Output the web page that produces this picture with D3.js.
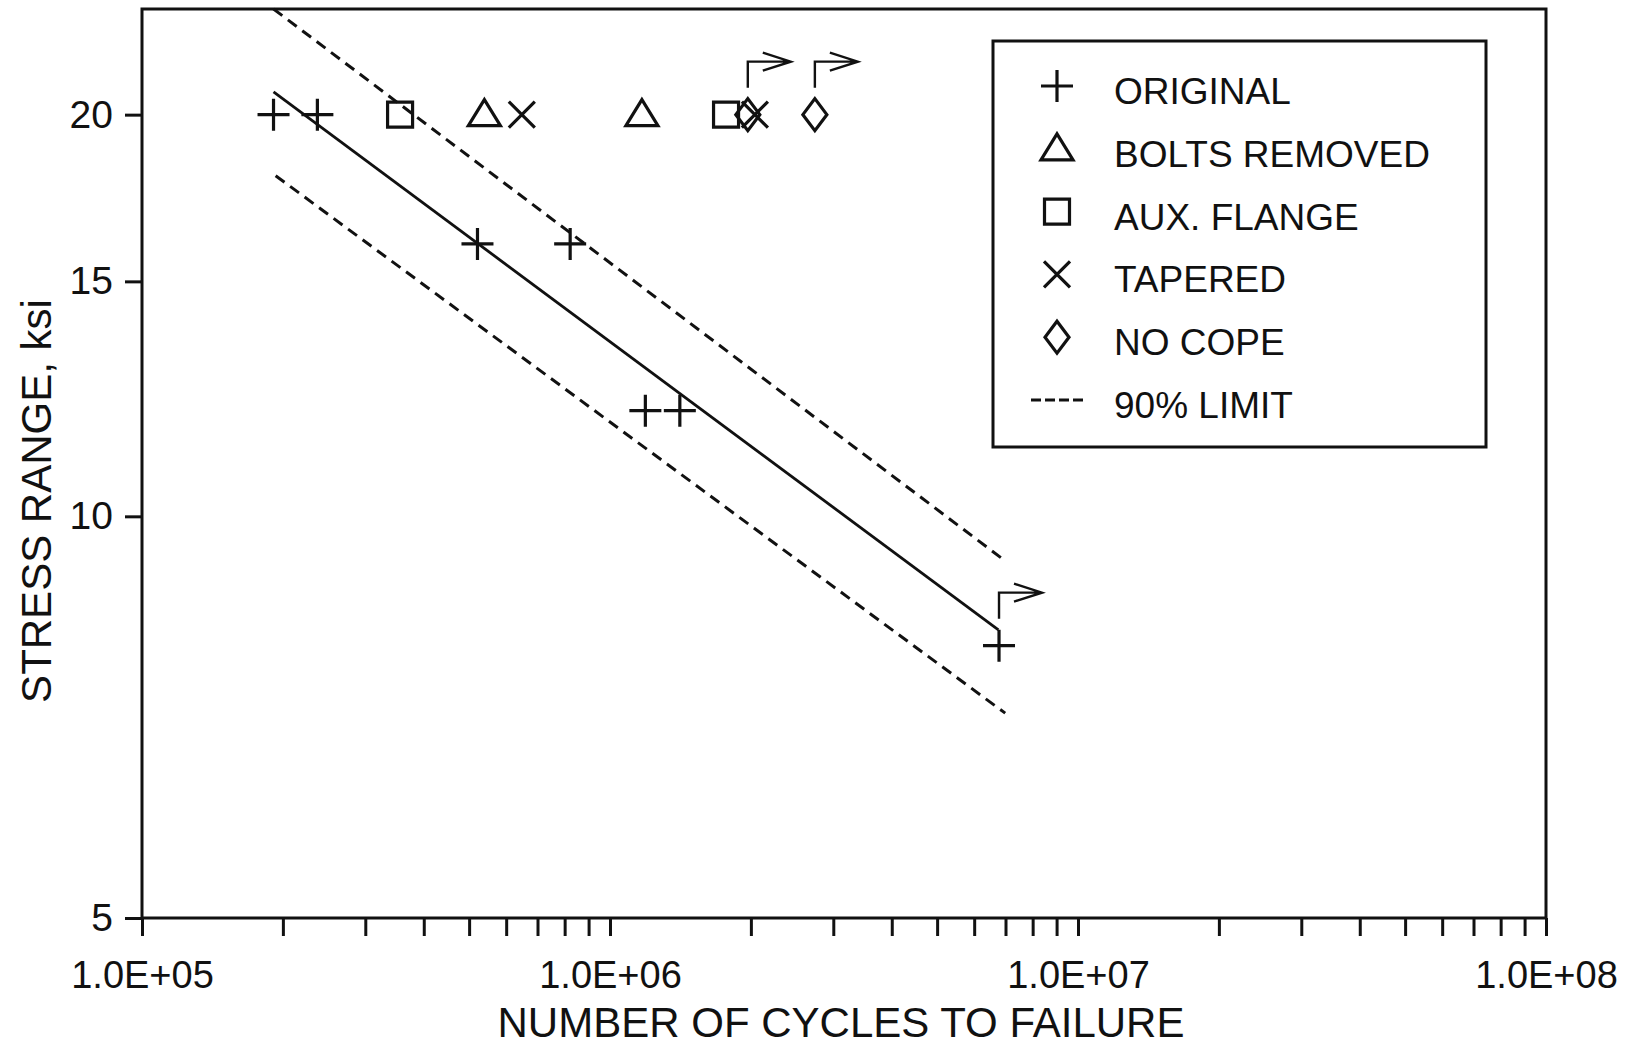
<!DOCTYPE html>
<html>
<head>
<meta charset="utf-8">
<script src="https://cdn.jsdelivr.net/npm/d3@7"></script>
<style>
  body { margin: 0; background: #fff; }
  text { font-family: "Liberation Sans", Arial, Helvetica, sans-serif; fill: #111; }
  .axis line { stroke: #111; stroke-width: 3; }
  .axis path { display: none; }
</style>
</head>
<body>
<div id="chart"></div>
<script>
// data (cycles, stress range ksi)
const original = [[1.91e5, 20], [2.37e5, 20], [5.21e5, 16], [8.22e5, 16], [1.19e6, 12], [1.41e6, 12], [6.78e6, 8]];
const boltsRemoved = [[5.39e5, 20], [1.17e6, 20]];
const auxFlange = [[3.56e5, 20], [1.77e6, 20]];
const tapered = [[6.48e5, 20], [2.04e6, 20]];
const noCope = [[1.97e6, 20], [2.74e6, 20]];

// regression line and 90% limits (end points)
const meanLine = [[1.91e5, 20.8], [6.76e6, 8.22]];
const upperLimit = [[1.91e5, 24.0], [6.96e6, 9.27]];
const lowerLimit = [[1.93e5, 18.0], [6.99e6, 7.12]];

// run-outs (test stopped without failure)
const runouts = [[1.97e6, 20], [2.74e6, 20], [6.78e6, 8]];

const xTickLabels = ["1.0E+05", "1.0E+06", "1.0E+07", "1.0E+08"];
const yTicks = [5, 10, 15, 20];
const legendLabels = ["ORIGINAL", "BOLTS REMOVED", "AUX. FLANGE", "TAPERED", "NO COPE", "90% LIMIT"];
const legendSymbols = ["plus", "triangle", "square", "times", "diamond", "dash"];

(function () {

  const svg_width = 1633;
  const svg_height = 1047;
  const margin = { top: 9, right: 87, bottom: 129, left: 142 },
    width = svg_width - margin.left - margin.right,
    height = svg_height - margin.top - margin.bottom;

  const x = d3.scaleLog().domain([1e5, 1e8]).range([0, width]);
  const y = d3.scaleLog().domain([5, 24]).range([height, 0]);

  let svg = d3.select("#chart").append("svg")
    .attr("width", svg_width)
    .attr("height", svg_height)
    .append("g")
    .attr("transform", "translate(" + margin.left + "," + margin.top + ")");

  // marker shapes, drawn as open strokes
  function markerPath(type) {
    switch (type) {
      case "plus": return "M-16,0H16M0,-16V16";
      case "times": return "M-13,-13L13,13M-13,13L13,-13";
      case "square": return "M-12.5,-12.5H12.5V12.5H-12.5Z";
      case "triangle": return "M0,-15L16,11H-16Z";
      case "diamond": return "M0,-16L12,0L0,16L-12,0Z";
      case "dash": return "M-26,0H26";
    }
  }

  // x axis: ticks at every 1..9 of each decade, labels on decades only
  const xTickVals = [];
  for (let e = 5; e < 8; e++) {
    for (let m = 1; m < 10; m++) xTickVals.push(m * Math.pow(10, e));
  }
  xTickVals.push(1e8);

  svg.append("g")
    .attr("class", "axis")
    .attr("transform", "translate(0," + height + ")")
    .call(d3.axisBottom(x)
      .tickValues(xTickVals)
      .tickSize(18)
      .tickPadding(25)
      .tickFormat(function (d) {
        const e = Math.round(Math.log10(d));
        return Math.abs(d - Math.pow(10, e)) < 1 ? xTickLabels[e - 5] : "";
      }))
    .selectAll("text")
    .style("font-size", "38px");

  svg.append("g")
    .attr("class", "axis")
    .call(d3.axisLeft(y)
      .tickValues(yTicks)
      .tickSize(17)
      .tickPadding(12)
      .tickFormat(d3.format("d")))
    .selectAll("text")
    .style("font-size", "39px");

  // frame
  svg.append("rect")
    .attr("x", 0)
    .attr("y", 0)
    .attr("width", width)
    .attr("height", height)
    .attr("fill", "none")
    .attr("stroke", "#111")
    .attr("stroke-width", 3);

  // axis titles
  svg.append("text")
    .attr("x", 841 - margin.left)
    .attr("y", height + 119)
    .attr("text-anchor", "middle")
    .style("font-size", "42px")
    .text("NUMBER OF CYCLES TO FAILURE");

  svg.append("text")
    .attr("transform", "translate(" + (51 - margin.left) + "," + (501 - margin.top) + ") rotate(-90)")
    .attr("text-anchor", "middle")
    .style("font-size", "42px")
    .text("STRESS RANGE, ksi");

  // fit lines
  const line = d3.line()
    .x(function (d) { return x(d[0]); })
    .y(function (d) { return y(d[1]); });

  svg.append("path")
    .datum(meanLine)
    .attr("d", line)
    .attr("fill", "none")
    .attr("stroke", "#111")
    .attr("stroke-width", 2.8);

  [upperLimit, lowerLimit].forEach(function (l) {
    svg.append("path")
      .datum(l)
      .attr("d", line)
      .attr("fill", "none")
      .attr("stroke", "#111")
      .attr("stroke-width", 3)
      .attr("stroke-dasharray", "11,7");
  });

  // data markers
  const series = [
    { data: original, symbol: "plus" },
    { data: boltsRemoved, symbol: "triangle" },
    { data: auxFlange, symbol: "square" },
    { data: tapered, symbol: "times" },
    { data: noCope, symbol: "diamond" }
  ];

  series.forEach(function (s) {
    svg.selectAll(null)
      .data(s.data)
      .enter().append("path")
      .attr("transform", function (d) { return "translate(" + x(d[0]) + "," + y(d[1]) + ")"; })
      .attr("d", markerPath(s.symbol))
      .attr("fill", "none")
      .attr("stroke", "#111")
      .attr("stroke-width", 3.2);
  });

  // run-out arrows
  svg.selectAll(".runout")
    .data(runouts)
    .enter().append("path")
    .attr("class", "runout")
    .attr("transform", function (d) { return "translate(" + x(d[0]) + "," + y(d[1]) + ")"; })
    .attr("d", "M0,-27V-53H43M15,-62L43,-53L15,-44")
    .attr("fill", "none")
    .attr("stroke", "#111")
    .attr("stroke-width", 2.4);

  // legend
  const legend = svg.append("g")
    .attr("transform", "translate(" + (993 - margin.left) + "," + (41 - margin.top) + ")");

  legend.append("rect")
    .attr("width", 493)
    .attr("height", 406)
    .attr("fill", "#fff")
    .attr("stroke", "#111")
    .attr("stroke-width", 3);

  const rows = legend.selectAll(".row")
    .data(legendLabels)
    .enter().append("g")
    .attr("class", "row")
    .attr("transform", function (d, i) { return "translate(0," + (45 + i * 62.8) + ")"; });

  rows.append("path")
    .attr("transform", "translate(64,0)")
    .attr("d", function (d, i) { return markerPath(legendSymbols[i]); })
    .attr("fill", "none")
    .attr("stroke", "#111")
    .attr("stroke-width", 3.2)
    .attr("stroke-dasharray", function (d, i) { return legendSymbols[i] === "dash" ? "10,4" : null; });

  rows.append("text")
    .attr("x", 121)
    .attr("y", 18)
    .style("font-size", "37px")
    .text(function (d) { return d; });

})();
</script>
</body>
</html>
